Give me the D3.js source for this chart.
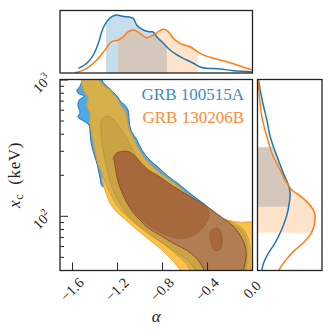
<!DOCTYPE html>
<html>
<head>
<meta charset="utf-8">
<script src="https://cdn.jsdelivr.net/npm/d3@7"></script>
<style>
  body { margin: 0; background: #fff; }
  svg { display: block; font-family: "Liberation Serif", "DejaVu Serif", serif; }
</style>
</head>
<body>
<div id="chart"></div>
<script>
// ---- values ----
const xTicks = [-1.6, -1.2, -0.8, -0.4, 0.0];
const yMajorTicks = [100, 1000];
const yMinorTicks = [40, 50, 60, 70, 80, 90, 200, 300, 400, 500, 600, 700, 800, 900];
const grbNames = ['GRB 100515A', 'GRB 130206B'];

// marginal of alpha: [alpha, relative density]
const alphaDensityA = [[-1.544,0.078],[-1.514,0.105],[-1.469,0.162],[-1.411,0.300],[-1.366,0.495],[-1.336,0.688],
  [-1.292,0.855],[-1.247,0.938],[-1.203,0.967],[-1.164,0.950],[-1.114,0.938],[-1.076,0.925],[-1.055,0.912],
  [-1.025,0.800],[-0.966,0.717],[-0.907,0.688],[-0.880,0.683],[-0.847,0.605],[-0.788,0.495],[-0.729,0.383],
  [-0.640,0.272],[-0.522,0.162],[-0.462,0.100],[-0.403,0.078],[-0.347,0.075],[-0.284,0.067],[-0.166,0.038],
  [-0.018,0.022],[0.009,0.017]];
const alphaDensityB = [[-1.573,0.005],[-1.469,0.078],[-1.380,0.217],[-1.307,0.383],[-1.247,0.522],[-1.188,0.550],
  [-1.144,0.605],[-1.100,0.688],[-1.055,0.717],[-0.996,0.662],[-0.936,0.588],[-0.877,0.633],[-0.818,0.705],
  [-0.788,0.728],[-0.744,0.688],[-0.700,0.578],[-0.640,0.495],[-0.551,0.438],[-0.462,0.328],[-0.344,0.245],
  [-0.225,0.188],[-0.107,0.117],[-0.018,0.062],[0.009,0.053]];
const alphaBandA = [-1.298, -0.758];
const alphaBandB = [-1.191, -0.480];

// marginal of x_c: [x_c keV, relative density]
const xcDensityA = [[1050,0.010],[988,0.017],[835,0.045],[667,0.090],[503,0.157],[380,0.212],[320,0.267],[256,0.350],
  [204,0.434],[168,0.517],[146,0.545],[123,0.530],[97.8,0.480],[78.6,0.400],[62.8,0.290],[53.0,0.180],
  [44.8,0.100],[40.0,0.073],[36.1,0.062]];
const xcDensityB = [[1000,0.010],[746,0.033],[532,0.073],[380,0.157],[270,0.267],[216,0.379],[177,0.479],[154,0.579],
  [140,0.713],[126,0.830],[114,0.913],[100,0.963],[85.5,0.947],[74.7,0.897],[63.1,0.763],[54.6,0.596],
  [47.7,0.479],[41.5,0.379],[37.5,0.329]];
const xcBandA = [116.4, 320.6];
const xcBandB = [75.0, 313.0];

// 2D credible contours: [alpha, x_c keV]
const contourBlueOuter = [[-1.493,1094],[-1.351,1094],[-1.324,955],[-1.280,878],[-1.236,807],[-1.191,742],[-1.164,682],
  [-1.138,659],[-1.102,596],[-1.093,503],[-1.076,425],[-1.022,359],[-0.978,303],[-0.916,260],[-0.836,228],
  [-0.747,195],[-0.640,168],[-0.542,144],[-0.436,124],[-0.338,106],[-0.213,86.9],[-0.107,72.2],[-0.062,56.0],
  [-0.107,42.8],[-0.329,41.4],[-0.551,49.0],[-0.773,66.3],[-0.996,89.9],[-1.173,122],[-1.298,162],[-1.333,165],
  [-1.351,189],[-1.369,224],[-1.387,256],[-1.413,298],[-1.431,347],[-1.440,411],[-1.449,462],[-1.493,495],
  [-1.547,529],[-1.529,576],[-1.547,637],[-1.538,705],[-1.493,755],[-1.547,794],[-1.556,835],[-1.529,893],
  [-1.511,988]];
const contourOrangeOuter = [[-1.511,1131],[-1.360,1131],[-1.360,988],[-1.316,893],[-1.262,835],[-1.236,780],
  [-1.200,729],[-1.173,648],[-1.129,586],[-1.111,503],[-1.093,425],[-1.049,359],[-1.004,303],[-0.942,256],
  [-0.871,224],[-0.782,195],[-0.684,171],[-0.587,147],[-0.480,124],[-0.364,106],[-0.249,94.6],[-0.124,89.9],
  [0.036,86.9],[0.036,36.1],[-0.613,36.1],[-0.640,40.0],[-0.702,46.5],[-0.773,53.3],[-0.853,61.0],[-0.942,69.8],
  [-1.031,79.9],[-1.120,93.0],[-1.200,106],[-1.262,124],[-1.298,147],[-1.324,174],[-1.333,206],[-1.369,239],
  [-1.387,279],[-1.404,330],[-1.422,397],[-1.440,486],[-1.440,566],[-1.467,637],[-1.458,742],[-1.493,821],
  [-1.511,924]];
const contourOverlap = [[-1.511,1131],[-1.360,1131],[-1.360,988],[-1.316,893],[-1.262,835],[-1.236,780],
  [-1.200,729],[-1.173,648],[-1.129,586],[-1.111,503],[-1.093,425],[-1.049,359],[-1.004,303],[-0.942,256],
  [-0.871,224],[-0.782,195],[-0.684,171],[-0.587,147],[-0.480,124],[-0.364,106],[-0.249,94.6],[-0.160,88.4],
  [-0.080,79.9],[-0.036,68.6],[-0.018,56.0],[-0.018,45.8],[-0.027,36.1],[-0.533,36.1],[-0.551,40.0],
  [-0.587,45.0],[-0.667,51.5],[-0.773,61.0],[-0.889,71.0],[-0.996,82.6],[-1.102,97.8],[-1.191,116],
  [-1.253,142],[-1.307,177],[-1.333,206],[-1.369,239],[-1.387,279],[-1.404,330],[-1.422,397],[-1.440,486],
  [-1.440,566],[-1.467,637],[-1.458,742],[-1.493,821],[-1.511,924]];
const contourMid = [[-1.324,520],[-1.280,538],[-1.236,512],[-1.191,462],[-1.147,411],[-1.102,359],[-1.058,303],
  [-1.004,256],[-0.933,224],[-0.844,195],[-0.747,171],[-0.640,147],[-0.533,126],[-0.418,108],[-0.302,96.2],
  [-0.187,86.9],[-0.098,78.6],[-0.053,66.3],[-0.044,51.5],[-0.053,40.0],[-0.062,36.1],[-0.489,36.1],
  [-0.516,41.4],[-0.587,48.2],[-0.693,55.1],[-0.809,64.1],[-0.924,74.7],[-1.031,88.4],[-1.120,106],
  [-1.191,130],[-1.244,162],[-1.280,206],[-1.307,260],[-1.333,330],[-1.342,418],[-1.342,486]];
const contourInner = [[-1.227,274],[-1.191,291],[-1.138,298],[-1.084,293],[-1.040,274],[-0.987,243],[-0.924,216],
  [-0.844,199],[-0.702,165],[-0.551,139],[-0.409,118],[-0.284,99.5],[-0.169,84.1],[-0.107,72.2],[-0.062,60.0],
  [-0.053,49.8],[-0.071,42.1],[-0.089,36.1],[-0.409,36.1],[-0.427,40.0],[-0.480,47.3],[-0.569,55.1],
  [-0.702,63.1],[-0.818,72.2],[-0.933,82.6],[-0.996,93.0],[-1.058,106],[-1.111,124],[-1.164,154],
  [-1.200,192],[-1.218,235]];
const contourCore = [[-1.218,269],[-1.191,286],[-1.138,293],[-1.084,288],[-1.040,269],[-0.987,239],[-0.924,213],
  [-0.844,195],[-0.702,162],[-0.551,137],[-0.436,120],[-0.400,114],[-0.382,101],[-0.418,85.5],[-0.489,74.7],
  [-0.596,68.6],[-0.711,69.8],[-0.818,75.9],[-0.924,85.5],[-0.987,94.6],[-1.049,108],[-1.102,124],
  [-1.156,154],[-1.191,192],[-1.204,235]];
const contourIsland = [[-0.356,78.6],[-0.311,81.2],[-0.276,74.7],[-0.267,63.1],[-0.293,56.0],[-0.338,56.0],
  [-0.364,63.1],[-0.373,71.0]];

class CornerPlot {

  constructor(_config) {
    this.config = {
      parentElement: _config.parentElement,
      containerWidth: 332,
      containerHeight: 336,
      main: {left: 60, top: 79.5, right: 252.5, bottom: 270.5},
      topPanel: {top: 10.5, bottom: 73},
      sidePanel: {left: 257.5, right: 322},
      frameColor: '#222',
      blue: '#1f77b4',
      orange: '#ff7f0e'
    };
    this.initVis();
  }

  initVis() {
    let vis = this;
    const m = vis.config.main;

    vis.svg = d3.select(vis.config.parentElement).append('svg')
      .attr('width', vis.config.containerWidth)
      .attr('height', vis.config.containerHeight);

    vis.xScale = d3.scaleLinear().domain([-1.707, 0.004]).range([m.left, m.right]);
    vis.yScale = d3.scaleLog().domain([39.7, 1000]).range([m.bottom, m.top]);
    vis.topDensity = d3.scaleLinear().domain([0, 1.05]).range([vis.config.topPanel.bottom, 10]);
    vis.sideDensity = d3.scaleLinear().domain([0, 1.08]).range([vis.config.sidePanel.left, 322.2]);

    const defs = vis.svg.append('defs');
    const clip = (id, x0, y0, x1, y1) => defs.append('clipPath').attr('id', id)
      .append('rect').attr('x', x0).attr('y', y0).attr('width', x1 - x0).attr('height', y1 - y0);
    clip('clip-main', m.left, m.top, m.right, m.bottom);
    clip('clip-top', m.left, vis.config.topPanel.top, m.right, vis.config.topPanel.bottom);
    clip('clip-side', vis.config.sidePanel.left, m.top, vis.config.sidePanel.right, m.bottom);

    vis.mainG = vis.svg.append('g').attr('clip-path', 'url(#clip-main)');
    vis.topG = vis.svg.append('g').attr('clip-path', 'url(#clip-top)');
    vis.sideG = vis.svg.append('g').attr('clip-path', 'url(#clip-side)');

    vis.renderContours();
    vis.renderMarginals();
    vis.renderAxes();
  }

  renderContours() {
    let vis = this;
    const shape = d3.line()
      .x(d => vis.xScale(d[0]))
      .y(d => vis.yScale(d[1]))
      .curve(d3.curveCatmullRomClosed.alpha(0.5));

    const layers = [
      {pts: contourBlueOuter, fill: '#4fa9e9', stroke: '#2274b6', w: 1},
      {pts: contourOrangeOuter, fill: '#fdc24b', stroke: '#f3a632', w: 1},
      {pts: contourOverlap, fill: '#d5b04b', stroke: '#d29a33', w: 0.9},
      {pts: contourMid, fill: '#caa444', stroke: '#b98f36', w: 0.8},
      {pts: contourInner, fill: '#b07e52', stroke: '#8c4c1d', w: 1},
      {pts: contourCore, fill: '#a5693b', stroke: '#9d5d2e', w: 0.6},
      {pts: contourIsland, fill: '#a5693b', stroke: '#98582a', w: 0.7}
    ];

    vis.mainG.selectAll('.contour').data(layers)
      .join('path')
      .attr('class', 'contour')
      .attr('d', d => shape(d.pts))
      .attr('fill', d => d.fill)
      .attr('stroke', d => d.stroke)
      .attr('stroke-width', d => d.w)
      .attr('stroke-linejoin', 'round');

    // legend labels
    vis.svg.selectAll('.legend-label').data(grbNames)
      .join('text')
      .attr('class', 'legend-label')
      .attr('x', 244)
      .attr('y', (d, i) => 100 + i * 22.5)
      .attr('text-anchor', 'end')
      .attr('font-size', 17)
      .attr('fill', (d, i) => i === 0 ? '#3a8bc5' : '#fb8d35')
      .text(d => d);
  }

  // slice of a density curve between lo and hi, ends linearly interpolated
  bandPoints(data, lo, hi) {
    const pts = data.slice().sort((a, b) => a[0] - b[0]);
    const at = v => {
      const i = Math.max(0, Math.min(pts.length - 2, d3.bisector(d => d[0]).right(pts, v) - 1));
      const p0 = pts[i], p1 = pts[i + 1];
      const t = (v - p0[0]) / (p1[0] - p0[0]);
      return [v, p0[1] + t * (p1[1] - p0[1])];
    };
    return [at(lo), ...pts.filter(d => d[0] > lo && d[0] < hi), at(hi)];
  }

  renderMarginals() {
    let vis = this;
    const c = vis.config;

    // top: alpha
    const topArea = d3.area()
      .x(d => vis.xScale(d[0]))
      .y0(vis.topDensity(0))
      .y1(d => vis.topDensity(d[1]))
      .curve(d3.curveMonotoneX);
    const topLine = d3.line()
      .x(d => vis.xScale(d[0]))
      .y(d => vis.topDensity(d[1]))
      .curve(d3.curveMonotoneX);

    vis.topG.append('path').attr('d', topArea(vis.bandPoints(alphaDensityA, ...alphaBandA)))
      .attr('fill', c.blue).attr('fill-opacity', 0.25);
    vis.topG.append('path').attr('d', topArea(vis.bandPoints(alphaDensityB, ...alphaBandB)))
      .attr('fill', c.orange).attr('fill-opacity', 0.22);
    vis.topG.selectAll('.kde-top').data([[alphaDensityA, c.blue], [alphaDensityB, c.orange]])
      .join('path').attr('class', 'kde-top')
      .attr('d', d => topLine(d[0]))
      .attr('fill', 'none').attr('stroke', d => d[1]).attr('stroke-width', 1.5);

    // side: x_c
    const sideArea = d3.area()
      .y(d => vis.yScale(d[0]))
      .x0(vis.sideDensity(0))
      .x1(d => vis.sideDensity(d[1]))
      .curve(d3.curveMonotoneY);
    const sideLine = d3.line()
      .y(d => vis.yScale(d[0]))
      .x(d => vis.sideDensity(d[1]))
      .curve(d3.curveMonotoneY);

    const sortByY = pts => pts.slice().sort((a, b) => vis.yScale(a[0]) - vis.yScale(b[0]));
    vis.sideG.append('path').attr('d', sideArea(sortByY(vis.bandPoints(xcDensityA, ...xcBandA))))
      .attr('fill', c.blue).attr('fill-opacity', 0.25);
    vis.sideG.append('path').attr('d', sideArea(sortByY(vis.bandPoints(xcDensityB, ...xcBandB))))
      .attr('fill', c.orange).attr('fill-opacity', 0.22);
    vis.sideG.selectAll('.kde-side').data([[xcDensityA, c.blue], [xcDensityB, c.orange]])
      .join('path').attr('class', 'kde-side')
      .attr('d', d => sideLine(sortByY(d[0])))
      .attr('fill', 'none').attr('stroke', d => d[1]).attr('stroke-width', 1.5);
  }

  renderAxes() {
    let vis = this;
    const c = vis.config, m = c.main;

    // ticks point inward
    const xAxisG = vis.svg.append('g').attr('transform', `translate(0,${m.bottom})`)
      .call(d3.axisBottom(vis.xScale).tickValues(xTicks).tickSize(-8).tickFormat(''));
    const yMajorG = vis.svg.append('g').attr('transform', `translate(${m.left},0)`)
      .call(d3.axisLeft(vis.yScale).tickValues(yMajorTicks).tickSize(-8).tickFormat(''));
    const yMinorG = vis.svg.append('g').attr('transform', `translate(${m.left},0)`)
      .call(d3.axisLeft(vis.yScale).tickValues(yMinorTicks).tickSize(-4).tickFormat(''));
    [xAxisG, yMajorG, yMinorG].forEach(g => {
      g.select('.domain').remove();
      g.selectAll('line').attr('stroke', c.frameColor).attr('stroke-width', 1);
    });

    // frames
    const frames = [
      [m.left, m.top, m.right, m.bottom],
      [m.left, c.topPanel.top, m.right, c.topPanel.bottom],
      [c.sidePanel.left, m.top, c.sidePanel.right, m.bottom]
    ];
    vis.svg.selectAll('.frame').data(frames)
      .join('rect').attr('class', 'frame')
      .attr('x', d => d[0]).attr('y', d => d[1])
      .attr('width', d => d[2] - d[0]).attr('height', d => d[3] - d[1])
      .attr('fill', 'none').attr('stroke', c.frameColor).attr('stroke-width', 1.3);

    // x tick labels, rotated
    const fmt = d3.format('.1f');
    vis.svg.selectAll('.x-label').data(xTicks)
      .join('text').attr('class', 'x-label')
      .attr('transform', d => `translate(${vis.xScale(d)},${m.bottom + 19}) rotate(-45)`)
      .attr('text-anchor', 'middle')
      .attr('dominant-baseline', 'central')
      .attr('font-size', 14.5)
      .attr('fill', '#222')
      .text(d => fmt(d));

    // y tick labels 10^n
    const yl = vis.svg.selectAll('.y-label').data(yMajorTicks)
      .join('text').attr('class', 'y-label')
      .attr('transform', d => `translate(${m.left - 18},${vis.yScale(d) + 4}) rotate(-45)`)
      .attr('text-anchor', 'middle')
      .attr('dominant-baseline', 'central')
      .attr('font-size', 14)
      .attr('fill', '#222');
    yl.append('tspan').text('10');
    yl.append('tspan').attr('font-size', 10).attr('dy', -5).text(d => Math.round(Math.log10(d)));

    // axis titles
    vis.svg.append('text')
      .attr('x', (m.left + m.right) / 2)
      .attr('y', 322)
      .attr('text-anchor', 'middle')
      .attr('font-size', 17)
      .attr('font-style', 'italic')
      .attr('fill', '#222')
      .text('α');

    const yt = vis.svg.append('text')
      .attr('transform', `translate(20,${(m.top + m.bottom) / 2}) rotate(-90)`)
      .attr('text-anchor', 'middle')
      .attr('font-size', 17)
      .attr('letter-spacing', 0.6)
      .attr('fill', '#222');
    yt.append('tspan').attr('font-style', 'italic').text('x');
    yt.append('tspan').attr('font-size', 12).attr('dy', 3).text('c');
    yt.append('tspan').attr('dy', -3).text('\u2002(keV)');
  }
}

new CornerPlot({parentElement: '#chart'});
</script>
</body>
</html>
